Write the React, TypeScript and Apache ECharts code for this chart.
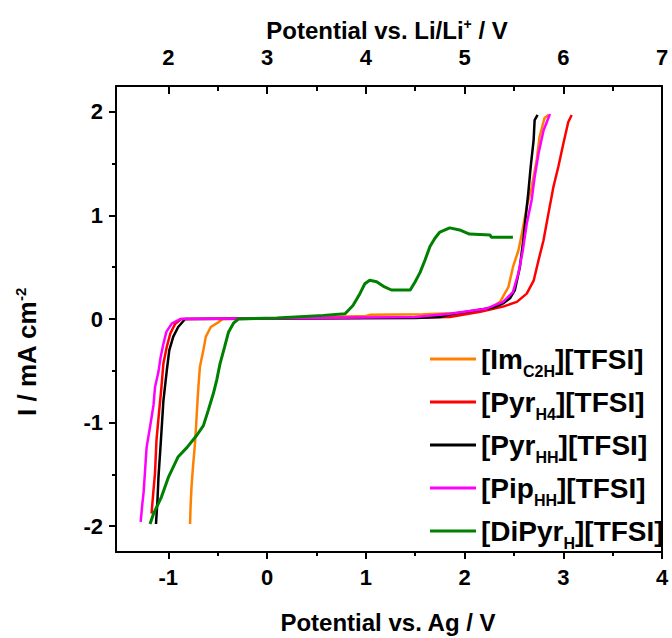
import React, { useEffect, useRef } from 'react';
import * as echarts from 'echarts';

const FONT = '"Liberation Sans", Arial, Helvetica, sans-serif';

// Axis ranges (bottom: vs. Ag, top: vs. Li/Li+ = Ag + 3 V)
const X_MIN = -1.53;
const X_MAX = 4;
const LI_SHIFT = 3;
const Y_MIN = -2.25;
const Y_MAX = 2.25;

const X_MAJOR = [-1, 0, 1, 2, 3, 4];
const X_MINOR = [-0.5, 0.5, 1.5, 2.5, 3.5];
const TOP_MAJOR = [2, 3, 4, 5, 6, 7];
const TOP_MINOR = [2.5, 3.5, 4.5, 5.5, 6.5];
const Y_MAJOR = [-2, -1, 0, 1, 2];
const Y_MINOR = [-1.5, -0.5, 0.5, 1.5];

const NAMES = ['[ImC2H][TFSI]', '[PyrH4][TFSI]', '[PyrHH][TFSI]', '[PipHH][TFSI]', '[DiPyrH][TFSI]'];
const NAME_MAIN = ['[Im', '[Pyr', '[Pyr', '[Pip', '[DiPyr'];
const NAME_SUB = ['C2H', 'H4', 'HH', 'HH', 'H'];
const COLORS = ['#FF8000', '#FF0000', '#000000', '#FF00FF', '#008000'];

const IM_C2H = [
  [-0.78, -1.98], [-0.775, -1.82], [-0.765, -1.62], [-0.753, -1.46], [-0.73, -1.2], [-0.72, -1.05],
  [-0.71, -0.88], [-0.695, -0.65], [-0.68, -0.46], [-0.645, -0.3], [-0.62, -0.17], [-0.57, -0.077],
  [-0.49, -0.03], [-0.45, 0], [0.2, 0.01], [1.0, 0.03], [1.04, 0.04], [1.58, 0.045], [2.0, 0.06],
  [2.25, 0.1], [2.36, 0.165], [2.445, 0.31], [2.49, 0.5], [2.545, 0.66], [2.58, 0.82], [2.63, 1.08],
  [2.68, 1.275], [2.73, 1.53], [2.76, 1.76], [2.81, 1.94], [2.85, 1.97],
];

const PYR_H4 = [
  [-1.17, -1.88], [-1.15, -1.65], [-1.135, -1.49], [-1.12, -1.17], [-1.095, -0.91], [-1.07, -0.66],
  [-1.05, -0.43], [-1.016, -0.27], [-0.98, -0.14], [-0.93, -0.045], [-0.87, 0], [0.5, 0.01],
  [1.5, 0.015], [1.85, 0.02], [2.16, 0.07], [2.39, 0.12], [2.53, 0.165], [2.63, 0.245], [2.7, 0.37],
  [2.75, 0.57], [2.8, 0.76], [2.85, 1.02], [2.9, 1.275], [2.95, 1.47], [3.0, 1.69], [3.05, 1.9],
  [3.085, 1.97],
];

const PYR_HH = [
  [-1.125, -1.98], [-1.11, -1.75], [-1.1, -1.53], [-1.077, -1.2], [-1.05, -0.79], [-1.016, -0.5],
  [-0.99, -0.3], [-0.95, -0.17], [-0.9, -0.077], [-0.83, 0], [0.3, 0.005], [1.5, 0.01], [1.75, 0.02],
  [1.89, 0.05], [2.09, 0.08], [2.29, 0.11], [2.39, 0.15], [2.46, 0.2], [2.51, 0.28], [2.56, 0.5],
  [2.595, 0.76], [2.62, 0.99], [2.645, 1.21], [2.67, 1.47], [2.7, 1.73], [2.71, 1.92], [2.74, 1.97],
];

const PIP_HH = [
  [-1.28, -1.96], [-1.265, -1.8], [-1.25, -1.67], [-1.22, -1.24], [-1.185, -1.04], [-1.15, -0.83],
  [-1.135, -0.66], [-1.1, -0.51], [-1.08, -0.38], [-1.05, -0.24], [-1.02, -0.125], [-0.966, -0.045],
  [-0.88, 0], [0.5, 0.01], [1.5, 0.02], [1.85, 0.05], [2.22, 0.1], [2.39, 0.165], [2.49, 0.26],
  [2.545, 0.44], [2.59, 0.66], [2.63, 0.92], [2.68, 1.15], [2.71, 1.37], [2.75, 1.6], [2.8, 1.82],
  [2.865, 1.98],
];

const DIPYR_H = [
  [-1.185, -1.98], [-1.15, -1.88], [-1.07, -1.72], [-1.0, -1.53], [-0.9, -1.33], [-0.81, -1.24],
  [-0.71, -1.12], [-0.645, -1.03], [-0.595, -0.88], [-0.544, -0.72], [-0.51, -0.59], [-0.476, -0.43],
  [-0.43, -0.27], [-0.39, -0.125], [-0.34, -0.04], [-0.29, 0], [0.1, 0.01], [0.57, 0.035],
  [0.79, 0.05], [0.87, 0.13], [0.94, 0.245], [0.99, 0.34], [1.04, 0.375], [1.11, 0.36], [1.19, 0.31],
  [1.26, 0.28], [1.45, 0.28], [1.5, 0.36], [1.55, 0.45], [1.6, 0.57], [1.65, 0.7], [1.7, 0.78],
  [1.75, 0.84], [1.85, 0.88], [1.95, 0.86], [2.05, 0.82], [2.26, 0.81], [2.27, 0.79], [2.49, 0.79],
];

const SERIES_DATA = [IM_C2H, PYR_H4, PYR_HH, PIP_HH, DIPYR_H];

const X_TITLE = 'Potential vs. Ag / V';
const TOP_TITLE_MAIN = 'Potential vs. Li/Li';
const TOP_TITLE_SUP = '+';
const TOP_TITLE_END = ' / V';
const Y_TITLE_MAIN = 'I / mA cm';
const Y_TITLE_SUP = '-2';

export default function App() {
  const ref = useRef<HTMLDivElement>(null);

  useEffect(() => {
    if (!ref.current) return;
    const chart = echarts.init(ref.current, undefined, { renderer: 'svg' });

    const labelStyle = {
      color: '#000',
      fontFamily: FONT,
      fontWeight: 'bold' as const,
      fontSize: 22,
    };
    const lineStyle = { color: '#000', width: 2 };
    const hiddenLine = { show: false, onZero: false };

    const legendFormatter = (name: string) => {
      const i = NAMES.indexOf(name);
      return `{m|${NAME_MAIN[i]}}{s|${NAME_SUB[i]}}{m|][TFSI]}`;
    };

    const option: any = {
      animation: false,
      backgroundColor: '#fff',
      grid: { left: 116, right: 10, top: 86, bottom: 86, containLabel: false },
      xAxis: [
        {
          type: 'value', position: 'bottom', min: X_MIN, max: X_MAX,
          axisLine: { show: true, onZero: false, lineStyle },
          axisTick: { show: true, inside: false, length: 7, lineStyle, customValues: X_MAJOR },
          axisLabel: { ...labelStyle, margin: 14, customValues: X_MAJOR },
          splitLine: { show: false },
        },
        {
          type: 'value', position: 'bottom', min: X_MIN, max: X_MAX,
          axisLine: hiddenLine,
          axisTick: { show: true, inside: false, length: 4, lineStyle, customValues: X_MINOR },
          axisLabel: { show: false },
          splitLine: { show: false },
        },
        {
          type: 'value', position: 'top', min: X_MIN + LI_SHIFT, max: X_MAX + LI_SHIFT,
          axisLine: { show: true, onZero: false, lineStyle },
          axisTick: { show: true, inside: true, length: 8, lineStyle, customValues: TOP_MAJOR },
          axisLabel: { ...labelStyle, margin: 18, customValues: TOP_MAJOR },
          splitLine: { show: false },
        },
        {
          type: 'value', position: 'top', min: X_MIN + LI_SHIFT, max: X_MAX + LI_SHIFT,
          axisLine: hiddenLine,
          axisTick: { show: true, inside: true, length: 5, lineStyle, customValues: TOP_MINOR },
          axisLabel: { show: false },
          splitLine: { show: false },
        },
      ],
      yAxis: [
        {
          type: 'value', position: 'left', min: Y_MIN, max: Y_MAX,
          axisLine: { show: true, onZero: false, lineStyle },
          axisTick: { show: true, inside: false, length: 7, lineStyle, customValues: Y_MAJOR },
          axisLabel: { ...labelStyle, margin: 13, customValues: Y_MAJOR },
          splitLine: { show: false },
        },
        {
          type: 'value', position: 'left', min: Y_MIN, max: Y_MAX,
          axisLine: hiddenLine,
          axisTick: { show: true, inside: false, length: 4, lineStyle, customValues: Y_MINOR },
          axisLabel: { show: false },
          splitLine: { show: false },
        },
        {
          type: 'value', position: 'right', min: Y_MIN, max: Y_MAX,
          axisLine: { show: true, onZero: false, lineStyle },
          axisTick: { show: false },
          axisLabel: { show: false },
          splitLine: { show: false },
        },
      ],
      legend: {
        orient: 'vertical',
        left: 425,
        top: 333,
        itemWidth: 46,
        itemHeight: 3,
        itemGap: 2,
        icon: 'rect',
        selectedMode: false,
        data: NAMES,
        formatter: legendFormatter,
        textStyle: {
          color: '#000',
          fontFamily: FONT,
          fontWeight: 'bold',
          rich: {
            m: { fontFamily: FONT, fontWeight: 'bold', fontSize: 28, lineHeight: 42, color: '#000' },
            s: {
              fontFamily: FONT, fontWeight: 'bold', fontSize: 16, lineHeight: 16, color: '#000',
              verticalAlign: 'top', padding: [25, 0, 0, 0],
            },
          },
        },
      },
      graphic: [
        {
          type: 'text',
          x: 388,
          y: 622,
          style: {
            text: X_TITLE,
            fontFamily: FONT, fontWeight: 'bold', fontSize: 24, fill: '#000',
            align: 'center', verticalAlign: 'middle',
          },
        },
        {
          type: 'text',
          x: 387,
          y: 30,
          style: {
            text: `{a|${TOP_TITLE_MAIN}}{s|${TOP_TITLE_SUP}}{a|${TOP_TITLE_END}}`,
            align: 'center', verticalAlign: 'middle',
            rich: {
              a: { fontFamily: FONT, fontWeight: 'bold', fontSize: 24, lineHeight: 26, fill: '#000' },
              s: { fontFamily: FONT, fontWeight: 'bold', fontSize: 14, lineHeight: 14, fill: '#000', verticalAlign: 'top' },
            },
          },
        },
        {
          type: 'text',
          x: 27,
          y: 352,
          rotation: Math.PI / 2,
          style: {
            text: `{a|${Y_TITLE_MAIN}}{s|${Y_TITLE_SUP}}`,
            align: 'center', verticalAlign: 'middle',
            rich: {
              a: { fontFamily: FONT, fontWeight: 'bold', fontSize: 26, lineHeight: 28, fill: '#000' },
              s: { fontFamily: FONT, fontWeight: 'bold', fontSize: 15, lineHeight: 15, fill: '#000', verticalAlign: 'top' },
            },
          },
        },
      ],
      series: SERIES_DATA.map((d, i) => ({
        name: NAMES[i],
        type: 'line',
        xAxisIndex: 0,
        yAxisIndex: 0,
        data: d,
        showSymbol: false,
        symbol: 'none',
        color: COLORS[i],
        lineStyle: { color: COLORS[i], width: i === 4 ? 3 : 2.5 },
        itemStyle: { color: COLORS[i] },
        z: 2 + i,
      })),
    };

    chart.setOption(option);
    return () => chart.dispose();
  }, []);

  return (
    <div
      ref={ref}
      style={{ position: 'absolute', left: 0, top: 0, width: 672, height: 638, background: '#fff' }}
    />
  );
}
